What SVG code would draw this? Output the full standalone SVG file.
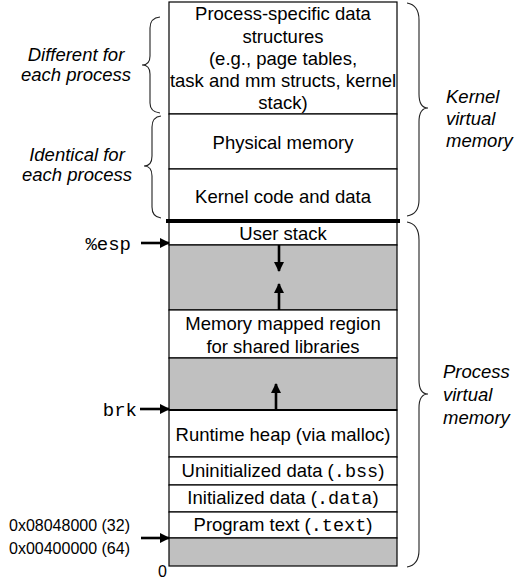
<svg xmlns="http://www.w3.org/2000/svg" width="523" height="584" viewBox="0 0 523 584">
<defs>
<marker id="ah" viewBox="0 0 10 10" refX="9" refY="5" markerWidth="4" markerHeight="4" orient="auto" markerUnits="strokeWidth">
<path d="M0,0 L10,5 L0,10 z" fill="#000"/>
</marker>
<style>
.box{fill:#fff;stroke:#000;stroke-width:1.2}
.gray{fill:#c0c0c0;stroke:#000;stroke-width:1.2}
.t{font-family:"Liberation Sans",Arial,sans-serif;font-size:18.5px;fill:#000;text-anchor:middle}
.it{font-family:"Liberation Sans",Arial,sans-serif;font-size:18.5px;font-style:italic;fill:#000}
.mono{font-family:"Liberation Mono","Courier New",monospace}
.lbl{font-family:"Liberation Sans",Arial,sans-serif;font-size:16px;fill:#000}
.ml{font-family:"Liberation Mono","Courier New",monospace;font-size:19px;fill:#000;text-anchor:end}
.brace{fill:none;stroke:#222;stroke-width:1.1}
.arr{stroke:#000;stroke-width:2.6;fill:none;marker-end:url(#ah)}
</style>
</defs>
<g id="kernel-process-specific"><rect class="box" x="169" y="2" width="228" height="112"/>
<text class="t" x="283" y="20">Process-specific data</text>
<text class="t" x="283" y="43">structures</text>
<text class="t" x="283" y="65">(e.g., page tables,</text>
<text class="t" x="283" y="87">task and mm structs, kernel</text>
<text class="t" x="283" y="109">stack)</text></g>
<g id="physical-memory"><rect class="box" x="169" y="114" width="228" height="55"/>
<text class="t" x="283" y="149">Physical memory</text></g>
<g id="kernel-code"><rect class="box" x="169" y="169" width="228" height="52"/>
<text class="t" x="283" y="203">Kernel code and data</text></g>
<g id="user-stack"><rect class="box" x="169" y="221" width="228" height="24"/>
<text class="t" x="283" y="240">User stack</text></g>
<g id="gap1"><rect class="gray" x="169" y="245" width="228" height="65"/></g>
<g id="mmap"><rect class="box" x="169" y="310" width="228" height="48"/>
<text class="t" x="283" y="330">Memory mapped region</text>
<text class="t" x="283" y="353">for shared libraries</text></g>
<g id="gap2"><rect class="gray" x="169" y="358" width="228" height="52"/></g>
<g id="heap"><rect class="box" x="169" y="410" width="228" height="47"/>
<text class="t" x="283" y="441">Runtime heap (via malloc)</text></g>
<g id="bss"><rect class="box" x="169" y="457" width="228" height="28"/>
<text class="t" x="283" y="477">Uninitialized data (<tspan class="mono">.bss</tspan>)</text></g>
<g id="data"><rect class="box" x="169" y="485" width="228" height="27"/>
<text class="t" x="283" y="504">Initialized data (<tspan class="mono">.data</tspan>)</text></g>
<g id="text"><rect class="box" x="169" y="512" width="228" height="26"/>
<text class="t" x="283" y="531">Program text (<tspan class="mono">.text</tspan>)</text></g>
<g id="gap3"><rect class="gray" x="169" y="538" width="228" height="28"/></g>
<g id="separators">
<line x1="166" y1="221" x2="400" y2="221" stroke="#000" stroke-width="4"/>
<line x1="169" y1="410" x2="397" y2="410" stroke="#000" stroke-width="2.2"/>
</g>
<g id="labels">
<text class="it" x="76" y="61" text-anchor="middle">Different for</text>
<text class="it" x="76" y="81" text-anchor="middle">each process</text>
<text class="it" x="77" y="161" text-anchor="middle">Identical  for</text>
<text class="it" x="77" y="181" text-anchor="middle">each process</text>
<text class="it" x="446" y="103">Kernel</text>
<text class="it" x="446" y="125">virtual</text>
<text class="it" x="446" y="147">memory</text>
<text class="it" x="443" y="378">Process</text>
<text class="it" x="443" y="401">virtual</text>
<text class="it" x="443" y="424">memory</text>
<text class="ml" x="131" y="250">%esp</text>
<text class="ml" x="137" y="416">brk</text>
<text class="lbl" x="9" y="531">0x08048000 (32)</text>
<text class="lbl" x="9" y="554">0x00400000 (64)</text>
<text class="lbl" x="158" y="577">0</text>
</g>
<g id="braces">
<path class="brace" d="M160,17 Q150,18 150,28 L150,56 Q150,65 142,65 Q150,65 150,74 L150,103 Q150,112 160,113"/>
<path class="brace" d="M161,116 Q152,117 152,127 L152,156 Q152,166 144,166 Q152,166 152,176 L152,207 Q152,217 161,218"/>
<path class="brace" d="M407,3 Q419,5 419,20 L419,94 Q419,108 428,108 Q419,108 419,122 L419,200 Q419,214 407,216"/>
<path class="brace" d="M407,222 Q419,224 419,240 L419,380 Q419,394 428,394 Q419,394 419,408 L419,550 Q419,565 407,567"/>
</g>
<g id="connectors">
<line class="arr" x1="141" y1="243" x2="169" y2="243"/>
<line class="arr" x1="140" y1="409" x2="169" y2="409"/>
<line class="arr" x1="141" y1="538" x2="169" y2="538"/>
<line class="arr" x1="279" y1="245" x2="279" y2="271"/>
<line class="arr" x1="279" y1="310" x2="279" y2="284"/>
<line class="arr" x1="276" y1="410" x2="276" y2="384"/>
</g>
</svg>
